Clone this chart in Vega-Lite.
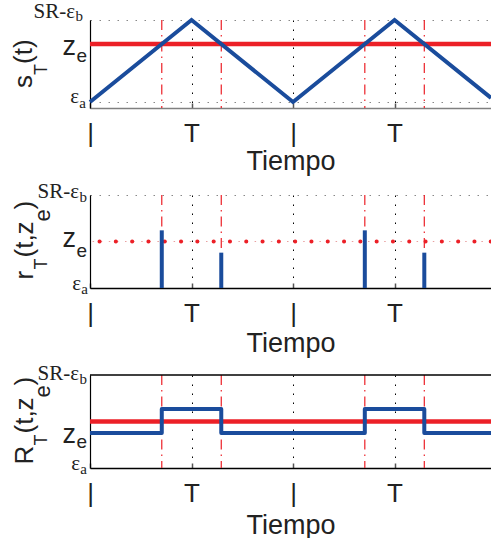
{
  "$schema": "https://vega.github.io/schema/vega-lite/v6.json",
  "padding": {"left": 11, "top": 1, "right": 0, "bottom": 0},
  "bounds": "flush",
  "spacing": 87,
  "config": {"view": {"stroke": null}, "axis": {"domainColor": "#000", "domainWidth": 1.2}},
  "datasets": {
    "tri": [{"t": 0, "v": 0}, {"t": 1, "v": 1}, {"t": 2, "v": 0}, {"t": 3, "v": 1}, {"t": 3.95, "v": 0.05}],
    "cross": [{"t": 0.707}, {"t": 1.293}, {"t": 2.707}, {"t": 3.293}],
    "spikes": [{"t": 0.707, "h": 0.62}, {"t": 1.293, "h": 0.38}, {"t": 2.707, "h": 0.62}, {"t": 3.293, "h": 0.38}],
    "step": [{"t": 0, "v": 0.376}, {"t": 0.707, "v": 0.634}, {"t": 1.293, "v": 0.376}, {"t": 2.707, "v": 0.634}, {"t": 3.293, "v": 0.376}, {"t": 3.95, "v": 0.376}],
    "yt1": [{"v": 1, "main": "SR-ε", "sub": "b"}, {"v": 0.707, "main": "z", "sub": "e"}, {"v": 0, "main": "ε", "sub": "a"}],
    "yt2": [{"v": 1, "main": "SR-ε", "sub": "b"}, {"v": 0.5, "main": "z", "sub": "e"}, {"v": 0, "main": "ε", "sub": "a"}],
    "ttl1": [{"p": "s", "c": 0.4635}, {"p": "T", "c": 0.4635}, {"p": "(t)", "c": 0.4635}],
    "ttl2": [{"p": "r", "c": 0.5}, {"p": "T", "c": 0.5}, {"p": "(t,z", "c": 0.5}, {"p": "e", "c": 0.5}, {"p": ")", "c": 0.5}],
    "ttl3": [{"p": "R", "c": 0.5}, {"p": "T", "c": 0.5}, {"p": "(t,z", "c": 0.5}, {"p": "e", "c": 0.5}, {"p": ")", "c": 0.5}]
  },
  "vconcat": [
    {
      "width": 401, "height": 88,
      "layer": [
        {
          "data": {"name": "cross"},
          "mark": {"type": "rule", "color": "#ec2027", "strokeWidth": 1.2, "strokeDash": [10, 5, 1.5, 5]},
          "encoding": {
            "x": {"field": "t", "type": "quantitative", "scale": {"domain": [0, 3.95], "nice": false, "zero": false},
              "axis": {"values": [0, 1, 2, 3], "labelExpr": "datum.value % 2 == 0 ? '|' : 'T'", "grid": true, "gridDash": [1.5, 7.5], "gridColor": "#000", "gridWidth": 1, "ticks": true, "tickSize": -5, "tickColor": "#555", "tickWidth": 1.5, "labelFont": "Liberation Sans", "labelFontSize": 26, "labelColor": "#222", "labelPadding": 17, "labelFlush": false, "labelOverlap": false, "title": "Tiempo", "titleFont": "Liberation Sans", "titleFontSize": 27, "titleFontWeight": "normal", "titleColor": "#222", "titlePadding": 2, "domainColor": "#808080", "domainWidth": 1.5}}
          }
        },
        {
          "data": {"values": [{"z": 0.707}]},
          "mark": {"type": "rule", "color": "#ec2027", "strokeWidth": 4.5},
          "encoding": {
            "y": {"field": "z", "type": "quantitative", "scale": {"domain": [-0.073, 1], "nice": false, "zero": false},
              "axis": {"values": [0, 1], "grid": true, "gridDash": [1.5, 7.5], "gridColor": "#888", "gridWidth": 1, "labels": false, "ticks": false, "title": null}}
          }
        },
        {
          "data": {"name": "tri"},
          "mark": {"type": "line", "color": "#1a4c9c", "strokeWidth": 4},
          "encoding": {
            "x": {"field": "t", "type": "quantitative"},
            "y": {"field": "v", "type": "quantitative"}
          }
        },
        {"data": {"name": "yt1"}, "transform": [{"filter": "datum.sub == 'b'"}], "mark": {"type": "text", "font": "Liberation Serif", "fontSize": 21, "align": "right", "baseline": "alphabetic", "dx": -15, "dy": -2, "color": "#222"}, "encoding": {"x": {"datum": 0, "type": "quantitative"}, "y": {"field": "v", "type": "quantitative"}, "text": {"field": "main"}}},
        {"data": {"name": "yt1"}, "transform": [{"filter": "datum.sub == 'b'"}], "mark": {"type": "text", "font": "Liberation Serif", "fontSize": 15, "align": "right", "baseline": "alphabetic", "dx": -7, "dy": 1, "color": "#222"}, "encoding": {"x": {"datum": 0, "type": "quantitative"}, "y": {"field": "v", "type": "quantitative"}, "text": {"field": "sub"}}},
        {"data": {"name": "yt1"}, "transform": [{"filter": "datum.sub == 'e'"}], "mark": {"type": "text", "font": "Liberation Sans", "fontSize": 27, "align": "right", "baseline": "alphabetic", "dx": -14, "dy": 11, "color": "#222"}, "encoding": {"x": {"datum": 0, "type": "quantitative"}, "y": {"field": "v", "type": "quantitative"}, "text": {"field": "main"}}},
        {"data": {"name": "yt1"}, "transform": [{"filter": "datum.sub == 'e'"}], "mark": {"type": "text", "font": "Liberation Sans", "fontSize": 19, "align": "right", "baseline": "alphabetic", "dx": -3, "dy": 18, "color": "#222"}, "encoding": {"x": {"datum": 0, "type": "quantitative"}, "y": {"field": "v", "type": "quantitative"}, "text": {"field": "sub"}}},
        {"data": {"name": "yt1"}, "transform": [{"filter": "datum.sub == 'a'"}], "mark": {"type": "text", "font": "Liberation Serif", "fontSize": 21, "align": "right", "baseline": "alphabetic", "dx": -11, "dy": 1, "color": "#222"}, "encoding": {"x": {"datum": 0, "type": "quantitative"}, "y": {"field": "v", "type": "quantitative"}, "text": {"field": "main"}}},
        {"data": {"name": "yt1"}, "transform": [{"filter": "datum.sub == 'a'"}], "mark": {"type": "text", "font": "Liberation Serif", "fontSize": 15, "align": "right", "baseline": "alphabetic", "dx": -4, "dy": 6, "color": "#222"}, "encoding": {"x": {"datum": 0, "type": "quantitative"}, "y": {"field": "v", "type": "quantitative"}, "text": {"field": "sub"}}},
        {"data": {"name": "ttl1"}, "transform": [{"filter": "datum.p == 's'"}], "mark": {"type": "text", "font": "Liberation Sans", "fontSize": 26, "angle": 270, "align": "left", "baseline": "alphabetic", "dx": -24, "dy": -58, "color": "#222"}, "encoding": {"x": {"datum": 0, "type": "quantitative"}, "y": {"field": "c", "type": "quantitative"}, "text": {"field": "p"}}},
        {"data": {"name": "ttl1"}, "transform": [{"filter": "datum.p == 'T'"}], "mark": {"type": "text", "font": "Liberation Sans", "fontSize": 18, "angle": 270, "align": "left", "baseline": "alphabetic", "dx": -11, "dy": -43, "color": "#222"}, "encoding": {"x": {"datum": 0, "type": "quantitative"}, "y": {"field": "c", "type": "quantitative"}, "text": {"field": "p"}}},
        {"data": {"name": "ttl1"}, "transform": [{"filter": "datum.p == '(t)'"}], "mark": {"type": "text", "font": "Liberation Sans", "fontSize": 26, "angle": 270, "align": "left", "baseline": "alphabetic", "dx": 0, "dy": -58, "color": "#222"}, "encoding": {"x": {"datum": 0, "type": "quantitative"}, "y": {"field": "c", "type": "quantitative"}, "text": {"field": "p"}}}
      ]
    },
    {
      "width": 401, "height": 93,
      "layer": [
        {
          "data": {"name": "cross"},
          "mark": {"type": "rule", "color": "#ec2027", "strokeWidth": 1.2, "strokeDash": [10, 5, 1.5, 5]},
          "encoding": {
            "x": {"field": "t", "type": "quantitative", "scale": {"domain": [0, 3.95], "nice": false, "zero": false},
              "axis": {"values": [0, 1, 2, 3], "labelExpr": "datum.value % 2 == 0 ? '|' : 'T'", "grid": true, "gridDash": [1.5, 7.5], "gridColor": "#000", "gridWidth": 1, "ticks": true, "tickSize": -5, "tickColor": "#555", "tickWidth": 1.5, "labelFont": "Liberation Sans", "labelFontSize": 26, "labelColor": "#222", "labelPadding": 17, "labelFlush": false, "labelOverlap": false, "title": "Tiempo", "titleFont": "Liberation Sans", "titleFontSize": 27, "titleFontWeight": "normal", "titleColor": "#222", "titlePadding": 4, "domainColor": "#000", "domainWidth": 1.5}}
          }
        },
        {
          "data": {"values": [{"z": 0.5}]},
          "mark": {"type": "rule", "color": "#e8a0a0", "strokeWidth": 1.2, "strokeDash": [1.5, 6.6]},
          "encoding": {
            "y": {"field": "z", "type": "quantitative", "scale": {"domain": [0, 1], "nice": false, "zero": false},
              "axis": {"values": [0, 1], "grid": true, "gridDash": [1.5, 7.5], "gridColor": "#888", "gridWidth": 1, "labels": false, "ticks": false, "title": null}}
          }
        },
        {
          "data": {"values": [{"z": 0.5}]},
          "mark": {"type": "rule", "color": "#ec2027", "strokeWidth": 4, "strokeCap": "round", "strokeDash": [0.1, 16.2], "strokeDashOffset": -16.5},
          "encoding": {"y": {"field": "z", "type": "quantitative"}}
        },
        {
          "data": {"name": "spikes"},
          "mark": {"type": "rule", "color": "#1a4c9c", "strokeWidth": 4},
          "encoding": {
            "x": {"field": "t", "type": "quantitative"},
            "y": {"field": "h", "type": "quantitative"},
            "y2": {"datum": 0}
          }
        },
        {"data": {"name": "yt2"}, "transform": [{"filter": "datum.sub == 'b'"}], "mark": {"type": "text", "font": "Liberation Serif", "fontSize": 21, "align": "right", "baseline": "alphabetic", "dx": -11, "dy": 3, "color": "#222"}, "encoding": {"x": {"datum": 0, "type": "quantitative"}, "y": {"field": "v", "type": "quantitative"}, "text": {"field": "main"}}},
        {"data": {"name": "yt2"}, "transform": [{"filter": "datum.sub == 'b'"}], "mark": {"type": "text", "font": "Liberation Serif", "fontSize": 15, "align": "right", "baseline": "alphabetic", "dx": -3, "dy": 7, "color": "#222"}, "encoding": {"x": {"datum": 0, "type": "quantitative"}, "y": {"field": "v", "type": "quantitative"}, "text": {"field": "sub"}}},
        {"data": {"name": "yt2"}, "transform": [{"filter": "datum.sub == 'e'"}], "mark": {"type": "text", "font": "Liberation Sans", "fontSize": 27, "align": "right", "baseline": "alphabetic", "dx": -14, "dy": 5.5, "color": "#222"}, "encoding": {"x": {"datum": 0, "type": "quantitative"}, "y": {"field": "v", "type": "quantitative"}, "text": {"field": "main"}}},
        {"data": {"name": "yt2"}, "transform": [{"filter": "datum.sub == 'e'"}], "mark": {"type": "text", "font": "Liberation Sans", "fontSize": 19, "align": "right", "baseline": "alphabetic", "dx": -3, "dy": 15, "color": "#222"}, "encoding": {"x": {"datum": 0, "type": "quantitative"}, "y": {"field": "v", "type": "quantitative"}, "text": {"field": "sub"}}},
        {"data": {"name": "yt2"}, "transform": [{"filter": "datum.sub == 'a'"}], "mark": {"type": "text", "font": "Liberation Serif", "fontSize": 21, "align": "right", "baseline": "alphabetic", "dx": -9, "dy": 2, "color": "#222"}, "encoding": {"x": {"datum": 0, "type": "quantitative"}, "y": {"field": "v", "type": "quantitative"}, "text": {"field": "main"}}},
        {"data": {"name": "yt2"}, "transform": [{"filter": "datum.sub == 'a'"}], "mark": {"type": "text", "font": "Liberation Serif", "fontSize": 15, "align": "right", "baseline": "alphabetic", "dx": -2, "dy": 6, "color": "#222"}, "encoding": {"x": {"datum": 0, "type": "quantitative"}, "y": {"field": "v", "type": "quantitative"}, "text": {"field": "sub"}}},
        {"data": {"name": "ttl2"}, "transform": [{"filter": "datum.p == 'r'"}], "mark": {"type": "text", "font": "Liberation Sans", "fontSize": 26, "angle": 270, "align": "left", "baseline": "alphabetic", "dx": -38, "dy": -57, "color": "#222"}, "encoding": {"x": {"datum": 0, "type": "quantitative"}, "y": {"field": "c", "type": "quantitative"}, "text": {"field": "p"}}},
        {"data": {"name": "ttl2"}, "transform": [{"filter": "datum.p == 'T'"}], "mark": {"type": "text", "font": "Liberation Sans", "fontSize": 18, "angle": 270, "align": "left", "baseline": "alphabetic", "dx": -28, "dy": -43, "color": "#222"}, "encoding": {"x": {"datum": 0, "type": "quantitative"}, "y": {"field": "c", "type": "quantitative"}, "text": {"field": "p"}}},
        {"data": {"name": "ttl2"}, "transform": [{"filter": "datum.p == '(t,z'"}], "mark": {"type": "text", "font": "Liberation Sans", "fontSize": 26, "angle": 270, "align": "left", "baseline": "alphabetic", "dx": -16, "dy": -57, "color": "#222"}, "encoding": {"x": {"datum": 0, "type": "quantitative"}, "y": {"field": "c", "type": "quantitative"}, "text": {"field": "p"}}},
        {"data": {"name": "ttl2"}, "transform": [{"filter": "datum.p == 'e'"}], "mark": {"type": "text", "font": "Liberation Sans", "fontSize": 22, "angle": 270, "align": "left", "baseline": "alphabetic", "dx": 20, "dy": -40, "color": "#222"}, "encoding": {"x": {"datum": 0, "type": "quantitative"}, "y": {"field": "c", "type": "quantitative"}, "text": {"field": "p"}}},
        {"data": {"name": "ttl2"}, "transform": [{"filter": "datum.p == ')'"}], "mark": {"type": "text", "font": "Liberation Sans", "fontSize": 26, "angle": 270, "align": "left", "baseline": "alphabetic", "dx": 32, "dy": -57, "color": "#222"}, "encoding": {"x": {"datum": 0, "type": "quantitative"}, "y": {"field": "c", "type": "quantitative"}, "text": {"field": "p"}}}
      ]
    },
    {
      "width": 401, "height": 93,
      "layer": [
        {
          "data": {"name": "cross"},
          "mark": {"type": "rule", "color": "#ec2027", "strokeWidth": 1.2, "strokeDash": [10, 5, 1.5, 5]},
          "encoding": {
            "x": {"field": "t", "type": "quantitative", "scale": {"domain": [0, 3.95], "nice": false, "zero": false},
              "axis": {"values": [0, 1, 2, 3], "labelExpr": "datum.value % 2 == 0 ? '|' : 'T'", "grid": true, "gridDash": [1.5, 7.5], "gridColor": "#000", "gridWidth": 1, "ticks": true, "tickSize": -5, "tickColor": "#555", "tickWidth": 1.5, "labelFont": "Liberation Sans", "labelFontSize": 26, "labelColor": "#222", "labelPadding": 17, "labelFlush": false, "labelOverlap": false, "title": "Tiempo", "titleFont": "Liberation Sans", "titleFontSize": 27, "titleFontWeight": "normal", "titleColor": "#222", "titlePadding": 6, "domainColor": "#000", "domainWidth": 1.5}}
          }
        },
        {
          "data": {"values": [{"z": 1}]},
          "mark": {"type": "rule", "color": "#000", "strokeWidth": 1.5},
          "encoding": {
            "y": {"field": "z", "type": "quantitative", "scale": {"domain": [0, 1], "nice": false, "zero": false},
              "axis": {"grid": false, "labels": false, "ticks": false, "title": null}}
          }
        },
        {
          "data": {"values": [{"z": 0.5}]},
          "mark": {"type": "rule", "color": "#ec2027", "strokeWidth": 4.5},
          "encoding": {"y": {"field": "z", "type": "quantitative"}}
        },
        {
          "data": {"name": "step"},
          "mark": {"type": "line", "color": "#1a4c9c", "strokeWidth": 4, "interpolate": "step-after", "strokeJoin": "round"},
          "encoding": {
            "x": {"field": "t", "type": "quantitative"},
            "y": {"field": "v", "type": "quantitative"}
          }
        },
        {"data": {"name": "yt2"}, "transform": [{"filter": "datum.sub == 'b'"}], "mark": {"type": "text", "font": "Liberation Serif", "fontSize": 21, "align": "right", "baseline": "alphabetic", "dx": -11, "dy": 5, "color": "#222"}, "encoding": {"x": {"datum": 0, "type": "quantitative"}, "y": {"field": "v", "type": "quantitative"}, "text": {"field": "main"}}},
        {"data": {"name": "yt2"}, "transform": [{"filter": "datum.sub == 'b'"}], "mark": {"type": "text", "font": "Liberation Serif", "fontSize": 15, "align": "right", "baseline": "alphabetic", "dx": -3, "dy": 9, "color": "#222"}, "encoding": {"x": {"datum": 0, "type": "quantitative"}, "y": {"field": "v", "type": "quantitative"}, "text": {"field": "sub"}}},
        {"data": {"name": "yt2"}, "transform": [{"filter": "datum.sub == 'e'"}], "mark": {"type": "text", "font": "Liberation Sans", "fontSize": 27, "align": "right", "baseline": "alphabetic", "dx": -14, "dy": 21.5, "color": "#222"}, "encoding": {"x": {"datum": 0, "type": "quantitative"}, "y": {"field": "v", "type": "quantitative"}, "text": {"field": "main"}}},
        {"data": {"name": "yt2"}, "transform": [{"filter": "datum.sub == 'e'"}], "mark": {"type": "text", "font": "Liberation Sans", "fontSize": 19, "align": "right", "baseline": "alphabetic", "dx": -3, "dy": 26.5, "color": "#222"}, "encoding": {"x": {"datum": 0, "type": "quantitative"}, "y": {"field": "v", "type": "quantitative"}, "text": {"field": "sub"}}},
        {"data": {"name": "yt2"}, "transform": [{"filter": "datum.sub == 'a'"}], "mark": {"type": "text", "font": "Liberation Serif", "fontSize": 21, "align": "right", "baseline": "alphabetic", "dx": -10, "dy": 2, "color": "#222"}, "encoding": {"x": {"datum": 0, "type": "quantitative"}, "y": {"field": "v", "type": "quantitative"}, "text": {"field": "main"}}},
        {"data": {"name": "yt2"}, "transform": [{"filter": "datum.sub == 'a'"}], "mark": {"type": "text", "font": "Liberation Serif", "fontSize": 15, "align": "right", "baseline": "alphabetic", "dx": -3, "dy": 6, "color": "#222"}, "encoding": {"x": {"datum": 0, "type": "quantitative"}, "y": {"field": "v", "type": "quantitative"}, "text": {"field": "sub"}}},
        {"data": {"name": "ttl3"}, "transform": [{"filter": "datum.p == 'R'"}], "mark": {"type": "text", "font": "Liberation Sans", "fontSize": 26, "angle": 270, "align": "left", "baseline": "alphabetic", "dx": -43, "dy": -57, "color": "#222"}, "encoding": {"x": {"datum": 0, "type": "quantitative"}, "y": {"field": "c", "type": "quantitative"}, "text": {"field": "p"}}},
        {"data": {"name": "ttl3"}, "transform": [{"filter": "datum.p == 'T'"}], "mark": {"type": "text", "font": "Liberation Sans", "fontSize": 18, "angle": 270, "align": "left", "baseline": "alphabetic", "dx": -24, "dy": -43, "color": "#222"}, "encoding": {"x": {"datum": 0, "type": "quantitative"}, "y": {"field": "c", "type": "quantitative"}, "text": {"field": "p"}}},
        {"data": {"name": "ttl3"}, "transform": [{"filter": "datum.p == '(t,z'"}], "mark": {"type": "text", "font": "Liberation Sans", "fontSize": 26, "angle": 270, "align": "left", "baseline": "alphabetic", "dx": -12, "dy": -57, "color": "#222"}, "encoding": {"x": {"datum": 0, "type": "quantitative"}, "y": {"field": "c", "type": "quantitative"}, "text": {"field": "p"}}},
        {"data": {"name": "ttl3"}, "transform": [{"filter": "datum.p == 'e'"}], "mark": {"type": "text", "font": "Liberation Sans", "fontSize": 22, "angle": 270, "align": "left", "baseline": "alphabetic", "dx": 24, "dy": -40, "color": "#222"}, "encoding": {"x": {"datum": 0, "type": "quantitative"}, "y": {"field": "c", "type": "quantitative"}, "text": {"field": "p"}}},
        {"data": {"name": "ttl3"}, "transform": [{"filter": "datum.p == ')'"}], "mark": {"type": "text", "font": "Liberation Sans", "fontSize": 26, "angle": 270, "align": "left", "baseline": "alphabetic", "dx": 36, "dy": -57, "color": "#222"}, "encoding": {"x": {"datum": 0, "type": "quantitative"}, "y": {"field": "c", "type": "quantitative"}, "text": {"field": "p"}}}
      ]
    }
  ]
}
